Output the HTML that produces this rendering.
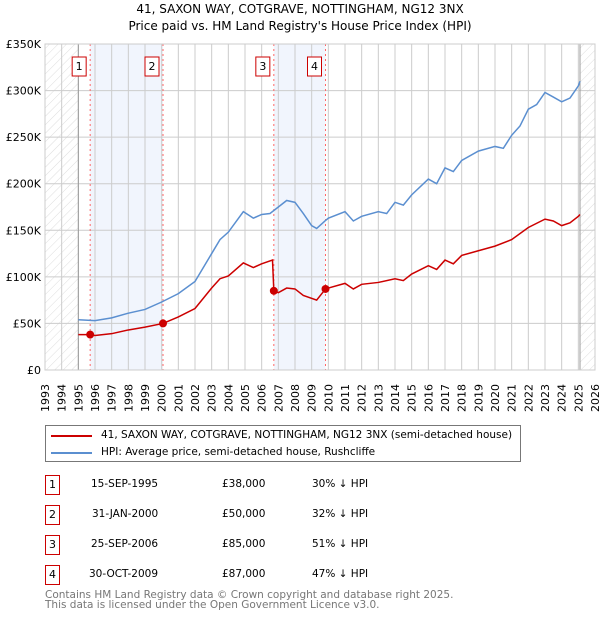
<!DOCTYPE html>
<html><head><meta charset="utf-8"><style>
body{margin:0;background:#fff;font-family:"DejaVu Sans","Liberation Sans",sans-serif;}
#wrap{position:relative;width:600px;height:620px;overflow:hidden}
.t{position:absolute;font-size:10.5px;color:#000;white-space:nowrap}
.box{position:absolute;width:13px;height:18px;border:1px solid #c00;font-size:11px;text-align:center;line-height:18px;background:#fff}
</style></head><body><div id="wrap">
<svg id="chart" width="600" height="420" style="position:absolute;left:0;top:0">
<defs><pattern id="hatch" width="6" height="6" patternUnits="userSpaceOnUse" patternTransform="rotate(45)"><line x1="0" y1="0" x2="0" y2="6" stroke="#ddd" stroke-width="1"/></pattern></defs>
<text x="300" y="13" text-anchor="middle" font-size="12" font-family="DejaVu Sans">41, SAXON WAY, COTGRAVE, NOTTINGHAM, NG12 3NX</text>
<text x="300" y="30" text-anchor="middle" font-size="12" font-family="DejaVu Sans">Price paid vs. HM Land Registry's House Price Index (HPI)</text>
<g id="g"></g>
</svg>
<div class="t" style="left:45px;top:425px;width:474px;height:35px;border:1px solid #777;">
<div style="position:absolute;left:5px;top:9px;width:41px;height:2px;background:#c00"></div>
<div style="position:absolute;left:55px;top:3px;">41, SAXON WAY, COTGRAVE, NOTTINGHAM, NG12 3NX (semi-detached house)</div>
<div style="position:absolute;left:5px;top:26px;width:41px;height:2px;background:#5b8fd0"></div>
<div style="position:absolute;left:55px;top:20px;">HPI: Average price, semi-detached house, Rushcliffe</div>
</div>
<div id="tbl"></div>
<div class="t" style="left:45px;top:590px;color:#777;font-size:10.5px;line-height:10px">Contains HM Land Registry data © Crown copyright and database right 2025.<br>This data is licensed under the Open Government Licence v3.0.</div>
</div>
<script>
const hpiX=[1995,1996,1997,1998,1999,2000,2001,2002,2003,2003.5,2004,2004.9,2005.5,2006,2006.5,2007,2007.5,2008,2008.5,2009,2009.3,2009.8,2010,2011,2011.5,2012,2013,2013.5,2014,2014.5,2015,2016,2016.5,2017,2017.5,2018,2019,2020,2020.5,2021,2021.5,2022,2022.5,2023,2023.5,2024,2024.5,2025,2025.1];
const hpiY=[54,53,56,61,65,73,82,95,125,140,148,170,163,167,168,175,182,180,168,155,152,160,163,170,160,165,170,168,180,177,188,205,200,217,213,225,235,240,238,252,262,280,285,298,293,288,292,305,310];
const ppX=[1995,1995.71,1996,1997,1998,1999,2000.08,2001,2002,2003,2003.5,2004,2004.9,2005.5,2006,2006.65,2006.73,2007,2007.5,2008,2008.5,2009.3,2009.83,2010,2011,2011.5,2012,2013,2014,2014.5,2015,2016,2016.5,2017,2017.5,2018,2019,2020,2021,2022,2023,2023.5,2024,2024.5,2025,2025.1];
const ppY=[38,38,37,39,43,46,50,57,66,88,98,101,115,110,114,118,85,83,88,87,80,75,87,88,93,87,92,94,98,96,103,112,108,118,114,123,128,133,140,153,162,160,155,158,165,167];
const saleX=[1995.71,2000.08,2006.73,2009.83];
const saleY=[38,50,85,87];
const saleLabels=["1","2","3","4"];
const saleDates=["15-SEP-1995","31-JAN-2000","25-SEP-2006","30-OCT-2009"];
const salePrices=["£38,000","£50,000","£85,000","£87,000"];
const saleDiffs=["30% ↓ HPI","32% ↓ HPI","51% ↓ HPI","47% ↓ HPI"];
const yTicks=[0,50,100,150,200,250,300,350];
const yTickLabels=["£0","£50K","£100K","£150K","£200K","£250K","£300K","£350K"];
const xTicks=[];for(let y=1993;y<=2026;y++)xTicks.push(y);
const L=45,R=595,T=44,B=370;
const sx=v=>L+(v-1993)/(2026-1993)*(R-L);
const sy=v=>B-v/350*(B-T);
const NS="http://www.w3.org/2000/svg";
const g=document.getElementById('g');
function mk(tag,at){const e=document.createElementNS(NS,tag);for(const k in at)e.setAttribute(k,at[k]);g.appendChild(e);return e;}
for(let i=0;i<saleX.length;i+=2){const r=mk('rect',{x:sx(saleX[i]),y:T,width:sx(saleX[i+1])-sx(saleX[i]),height:B-T,fill:'#eef3fc',opacity:0.8});

}
let h1=mk('rect',{x:L,y:T,width:sx(1995)-L,height:B-T,fill:'url(#hatch)'});


let h2=mk('rect',{x:sx(2025.1),y:T,width:R-sx(2025.1),height:B-T,fill:'url(#hatch)'});


xTicks.forEach(y=>{const l=mk('line',{x1:sx(y),x2:sx(y),y1:T,y2:B,stroke:'#ccc'});


const t=mk('text',{transform:`translate(${sx(y)+4},${B+42}) rotate(-90)`,'font-size':11,'font-family':'DejaVu Sans'});t.textContent=y;

});
yTicks.forEach((v,i)=>{const l=mk('line',{x1:L,x2:R,y1:sy(v),y2:sy(v),stroke:'#ccc'});


const t=mk('text',{x:L-4,y:sy(v)+4,'text-anchor':'end','font-size':11,'font-family':'DejaVu Sans'});t.textContent=yTickLabels[i];

});
[1995,2025.1].forEach(y=>{const l=mk('line',{x1:sx(y),x2:sx(y),y1:T,y2:B,stroke:'#999'});

});
saleX.forEach((x,i)=>{const l=mk('line',{x1:sx(x),x2:sx(x),y1:T,y2:B,stroke:'#f66','stroke-dasharray':'2,3'});


const r=mk('rect',{x:sx(x)-18,y:57,width:14,height:19,fill:'#fff',stroke:'#c00'});


const t=mk('text',{x:sx(x)-11,y:70,'text-anchor':'middle','font-size':11,'font-family':'DejaVu Sans'});t.textContent=saleLabels[i];

});
const hp=mk('polyline',{points:hpiX.map((x,i)=>sx(x)+','+sy(hpiY[i])).join(' '),fill:'none',stroke:'#5b8fd0','stroke-width':1.5});


const pp=mk('polyline',{points:ppX.map((x,i)=>sx(x)+','+sy(ppY[i])).join(' '),fill:'none',stroke:'#c00','stroke-width':1.5});


saleX.forEach((x,i)=>{const c=mk('circle',{cx:sx(x),cy:sy(saleY[i]),r:4,fill:'#c00'});

});
const b=mk('rect',{x:L,y:T,width:R-L,height:B-T,fill:'none',stroke:'#ccc'});


const tbl=document.getElementById('tbl');
saleLabels.forEach((s,i)=>{const top=475+i*30;
const row=document.createElement('div');


row.innerHTML=`<div class="box" style="left:45px;top:${top}px">${s}</div><div class="t" style="left:${i==3?89:i==1?92:91}px;top:${top+3}px">${saleDates[i]}</div><div class="t" style="left:222px;top:${top+3}px">${salePrices[i]}</div><div class="t" style="left:312px;top:${top+3}px">${saleDiffs[i]}</div>`;
tbl.appendChild(row);});
</script></body></html>
